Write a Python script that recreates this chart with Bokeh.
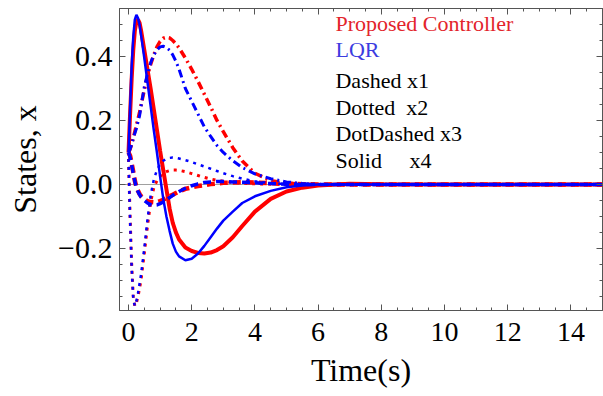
from bokeh.plotting import figure
from bokeh.models import FixedTicker, LinearAxis, Label, Range1d
from bokeh.embed import file_html
from bokeh.resources import INLINE

# ---------------- data ----------------
t = [0, 0.05, 0.1, 0.15, 0.2, 0.25, 0.3, 0.35, 0.4, 0.5, 0.6, 0.7, 0.8, 0.9,
     1.0, 1.1, 1.2, 1.3, 1.4, 1.5, 1.6, 1.8, 2.0, 2.2, 2.4, 2.6, 2.8, 3.0,
     3.3, 3.6, 4.0, 4.5, 5.0, 5.5, 6.0, 7.0, 8.0, 10.0, 12.0, 15.0]

# Proposed controller (red)
x1_prop = [0.10, 0.09, 0.065, 0.04, 0.012, -0.008, -0.02, -0.03, -0.037, -0.046,
           -0.052, -0.055, -0.056, -0.055, -0.052, -0.048, -0.043, -0.037, -0.032,
           -0.027, -0.022, -0.014, -0.009, -0.005, -0.002, 0.001, 0.003, 0.005,
           0.006, 0.007, 0.006, 0.004, 0.002, 0.001, 0.0, 0.0, 0.0, 0.0, 0.0, 0.0]
x2_prop = [0.08, -0.10, -0.25, -0.35, -0.38, -0.37, -0.35, -0.325, -0.295, -0.215,
           -0.13, -0.055, -0.01, 0.012, 0.025, 0.035, 0.04, 0.043, 0.045, 0.045,
           0.044, 0.04, 0.034, 0.028, 0.022, 0.017, 0.013, 0.01, 0.006, 0.004,
           0.002, 0.001, 0.0, 0.0, 0.0, 0.0, 0.0, 0.0, 0.0, 0.0]
x3_prop = [0.10, 0.11, 0.125, 0.145, 0.165, 0.185, 0.205, 0.225, 0.25, 0.295,
           0.34, 0.375, 0.405, 0.43, 0.447, 0.457, 0.46, 0.458, 0.45, 0.44,
           0.427, 0.395, 0.36, 0.322, 0.282, 0.242, 0.20, 0.165, 0.115, 0.073,
           0.035, 0.012, 0.004, 0.001, 0.0, 0.0, 0.0, 0.0, 0.0, 0.0]
x4_prop = [0.10, 0.22, 0.33, 0.42, 0.48, 0.51, 0.515, 0.505, 0.48, 0.42,
           0.36, 0.30, 0.235, 0.17, 0.105, 0.045, -0.015, -0.075, -0.12, -0.15,
           -0.172, -0.197, -0.208, -0.214, -0.216, -0.213, -0.205, -0.193, -0.165, -0.13,
           -0.085, -0.045, -0.022, -0.01, -0.003, 0.002, 0.001, 0.0, 0.0, 0.0]

# LQR (blue)
x1_lqr = [0.10, 0.085, 0.06, 0.035, 0.01, -0.01, -0.022, -0.032, -0.04, -0.05,
          -0.058, -0.063, -0.065, -0.064, -0.06, -0.055, -0.048, -0.041, -0.034,
          -0.028, -0.022, -0.012, -0.004, 0.002, 0.006, 0.008, 0.009, 0.009,
          0.008, 0.007, 0.005, 0.003, 0.001, 0.0, 0.0, 0.0, 0.0, 0.0, 0.0, 0.0]
x2_lqr = [0.08, -0.11, -0.26, -0.355, -0.38, -0.365, -0.34, -0.31, -0.28, -0.20,
          -0.11, -0.035, 0.015, 0.045, 0.063, 0.074, 0.08, 0.083, 0.084, 0.083,
          0.081, 0.076, 0.07, 0.063, 0.056, 0.049, 0.042, 0.035, 0.026, 0.018,
          0.01, 0.004, 0.001, 0.0, 0.0, 0.0, 0.0, 0.0, 0.0, 0.0]
x3_lqr = [0.10, 0.11, 0.125, 0.143, 0.16, 0.175, 0.195, 0.215, 0.245, 0.305,
          0.345, 0.38, 0.405, 0.42, 0.43, 0.432, 0.428, 0.42, 0.405, 0.385,
          0.36, 0.30, 0.26, 0.22, 0.18, 0.15, 0.122, 0.10, 0.074, 0.053,
          0.033, 0.018, 0.008, 0.003, 0.0, 0.0, 0.0, 0.0, 0.0, 0.0]
x4_lqr = [0.10, 0.24, 0.37, 0.46, 0.515, 0.53, 0.52, 0.50, 0.465, 0.395,
          0.32, 0.245, 0.17, 0.10, 0.025, -0.045, -0.10, -0.145, -0.185, -0.21,
          -0.225, -0.237, -0.232, -0.216, -0.192, -0.165, -0.138, -0.113, -0.085, -0.058,
          -0.037, -0.02, -0.009, -0.003, 0.0, 0.0, 0.0, 0.0, 0.0, 0.0]

x_ticks = [0, 2, 4, 6, 8, 10, 12, 14]
x_minor = [i * 0.5 for i in range(0, 31)]
y_ticks = [-0.2, 0.0, 0.2, 0.4]
y_tick_labels = ["\u22120.2", "0.0", "0.2", "0.4"]
y_minor = [round(-0.35 + i * 0.05, 2) for i in range(0, 18)]

legend_lines = ["Proposed Controller", "LQR", "Dashed x1", "Dotted\u00a0 x2",
                "DotDashed x3", "Solid\u00a0\u00a0\u00a0\u00a0 x4"]

# ---------------- figure ----------------
FONT = "Liberation Serif"
RED = "#ff0000"
BLUE = "#0000ff"
FRAME = "#555555"

p = figure(width=603, height=396, output_backend="svg", toolbar_location=None,
           x_range=Range1d(-0.285, 15.0), y_range=Range1d(-0.394, 0.55),
           min_border_left=119, min_border_right=1, min_border_top=8,
           min_border_bottom=86)
p.background_fill_color = "white"
p.border_fill_color = "white"
p.outline_line_color = FRAME
p.outline_line_width = 1

p.xgrid.visible = False
p.ygrid.ticker = FixedTicker(ticks=[0.0])
p.ygrid.grid_line_color = "#a0a0a0"
p.ygrid.grid_line_width = 1.2

xt = FixedTicker(ticks=x_ticks, minor_ticks=x_minor)
yt = FixedTicker(ticks=y_ticks, minor_ticks=y_minor)


def style(ax, labels=True, size="28px"):
    ax.axis_line_color = FRAME
    ax.major_tick_line_color = FRAME
    ax.minor_tick_line_color = FRAME
    ax.major_tick_in = 6
    ax.major_tick_out = 0
    ax.minor_tick_in = 3
    ax.minor_tick_out = 0
    if labels:
        ax.major_label_text_font = FONT
        ax.major_label_text_font_size = size
        ax.major_label_text_color = "black"
        ax.axis_label_text_font = FONT
        ax.axis_label_text_font_size = "32px"
        ax.axis_label_text_font_style = "normal"
        ax.axis_label_text_color = "black"
    else:
        ax.major_label_text_font_size = "0px"
        ax.major_label_text_color = None
        ax.major_label_standoff = 0


xa = p.xaxis[0]
xa.ticker = xt
style(xa, size="28px")
xa.axis_label = "Time(s)"
xa.major_label_standoff = 12
xa.axis_label_standoff = 8

ya = p.yaxis[0]
ya.ticker = yt
style(ya, size="30px")
ya.axis_label = "States, x"
ya.major_label_standoff = 7
ya.axis_label_standoff = 12
ya.major_label_overrides = {v: s for v, s in zip(y_ticks, y_tick_labels)}

top = LinearAxis(ticker=xt)
style(top, labels=False)
p.add_layout(top, "above")
right = LinearAxis(ticker=yt)
style(right, labels=False)
p.add_layout(right, "right")

# ---------------- curves ----------------
DASH = "8 5"
DOT = "3 5"
DOTDASH = "8 4 2 4"

p.line(t, x1_prop, line_color=RED, line_width=4.5, line_dash=DASH)
p.line(t, x2_prop, line_color=RED, line_width=3, line_dash=DOT)
p.line(t, x3_prop, line_color=RED, line_width=3.5, line_dash=DOTDASH)
p.line(t, x4_prop, line_color=RED, line_width=4)

p.line(t, x1_lqr, line_color=BLUE, line_width=3.5, line_dash=DASH)
p.line(t, x2_lqr, line_color=BLUE, line_width=2.5, line_dash=DOT)
p.line(t, x3_lqr, line_color=BLUE, line_width=3, line_dash=DOTDASH)
p.line(t, x4_lqr, line_color=BLUE, line_width=2.5)

# ---------------- legend texts ----------------
legend_colors = ["#e3242b", "#3c3ce0", "black", "black", "black", "black"]
legend_y = [0.503, 0.423, 0.324, 0.240, 0.158, 0.074]
for txt, col, yy in zip(legend_lines, legend_colors, legend_y):
    p.add_layout(Label(x=6.55, y=yy, text=txt, text_color=col, text_font=FONT,
                       text_font_size="22px", text_baseline="alphabetic"))

open("out.html", "w").write(file_html(p, INLINE))
